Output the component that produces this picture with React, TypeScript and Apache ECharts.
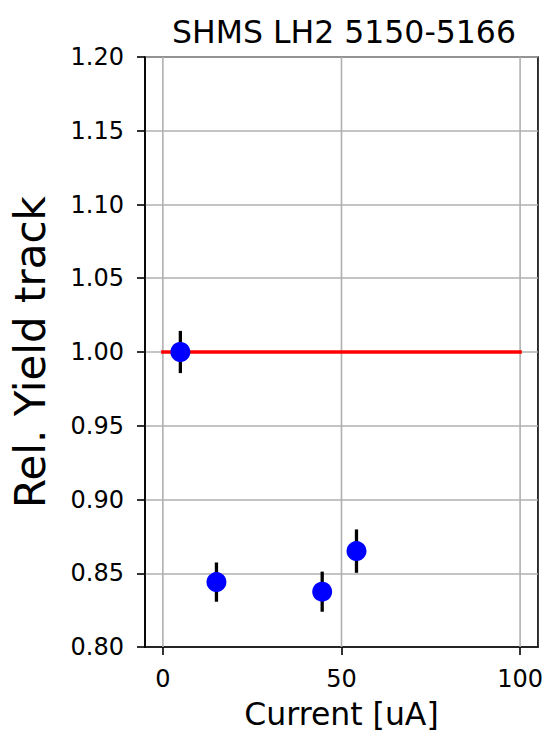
import React, { useEffect, useRef } from "react";
import * as echarts from "echarts";

const titleText = "SHMS LH2 5150-5166";
const xName = "Current [uA]";
const yName = "Rel. Yield track";

const currents = [4.9, 15.0, 44.6, 54.2];
const yields = [1.0, 0.844, 0.8375, 0.865];
const errors = [0.0143, 0.0133, 0.0136, 0.0147];

const refX = [0, 100];
const refY = [1.0, 1.0];

const xTicks = [0, 50, 100];
const xMin = -5;
const xMax = 105;
const yMin = 0.8;
const yMax = 1.2;
const yStep = 0.05;

const FONT = "DejaVu Sans";

export default function App() {
  const ref = useRef<HTMLDivElement>(null);
  useEffect(() => {
    if (!ref.current) return;
    const chart = echarts.init(ref.current, undefined, { renderer: "svg" });
    const option: any = {
      animation: false,
      backgroundColor: "#ffffff",
      title: {
        text: titleText,
        left: 339,
        top: 11,
        textAlign: "center",
        textStyle: { fontFamily: FONT, fontSize: 31.5, fontWeight: "normal", color: "#000" },
      },
      grid: {
        left: 145,
        top: 57,
        width: 393,
        height: 590,
        show: true,
        borderColor: "#000",
        borderWidth: 1.6,
        containLabel: false,
      },
      xAxis: {
        type: "value",
        min: xMin,
        max: xMax,
        axisLine: { show: true, onZero: false, lineStyle: { color: "#000", width: 1.6 } },
        axisTick: { show: true, customValues: xTicks, length: 8, lineStyle: { color: "#000", width: 1.6 } },
        axisLabel: { customValues: xTicks, fontFamily: FONT, fontSize: 24, color: "#000", margin: 20 },
        splitLine: { show: false },
        name: xName,
        nameLocation: "middle",
        nameGap: 51,
        nameTextStyle: { fontFamily: FONT, fontSize: 31.5, color: "#000" },
      },
      yAxis: {
        type: "value",
        min: yMin,
        max: yMax,
        interval: yStep,
        axisLine: { show: true, onZero: false, lineStyle: { color: "#000", width: 1.6 } },
        axisTick: { show: true, length: 8, lineStyle: { color: "#000", width: 1.6 } },
        axisLabel: {
          fontFamily: FONT,
          fontSize: 24,
          color: "#000",
          margin: 21,
          formatter: (v: number) => v.toFixed(2),
        },
        splitLine: { show: true, lineStyle: { color: "#b0b0b0", width: 1.6 } },
        name: yName,
        nameLocation: "middle",
        nameGap: 94,
        nameTextStyle: { fontFamily: FONT, fontSize: 42, color: "#000" },
      },
      series: [
        {
          type: "custom",
          silent: true,
          z: 1,
          data: xTicks.map((v) => [v]),
          encode: { x: 0 },
          renderItem: (params: any, api: any) => {
            const v = api.value(0);
            const p0 = api.coord([v, yMin]);
            const p1 = api.coord([v, yMax]);
            return {
              type: "line",
              shape: { x1: p0[0], y1: p0[1], x2: p1[0], y2: p1[1] },
              style: { stroke: "#b0b0b0", lineWidth: 1.6 },
            };
          },
        },
        {
          type: "line",
          z: 2,
          symbol: "none",
          data: refX.map((x, i) => [x, refY[i]]),
          lineStyle: { color: "#ff0000", width: 3.5, cap: "square" },
        },
        {
          type: "custom",
          z: 3,
          data: currents.map((x, i) => [x, yields[i] - errors[i], yields[i] + errors[i]]),
          encode: { x: 0, y: [1, 2] },
          renderItem: (params: any, api: any) => {
            const x = api.value(0);
            const p0 = api.coord([x, api.value(1)]);
            const p1 = api.coord([x, api.value(2)]);
            return {
              type: "line",
              shape: { x1: p0[0], y1: p0[1], x2: p1[0], y2: p1[1] },
              style: { stroke: "#000", lineWidth: 3.3 },
            };
          },
        },
        {
          type: "scatter",
          z: 4,
          symbol: "circle",
          symbolSize: 20,
          data: currents.map((x, i) => [x, yields[i]]),
          itemStyle: { color: "#0000ff", opacity: 1 },
        },
      ],
    };
    chart.setOption(option);
    return () => chart.dispose();
  }, []);
  return (
    <div
      ref={ref}
      style={{ position: "absolute", left: 0, top: 0, width: 546, height: 736 }}
    />
  );
}
